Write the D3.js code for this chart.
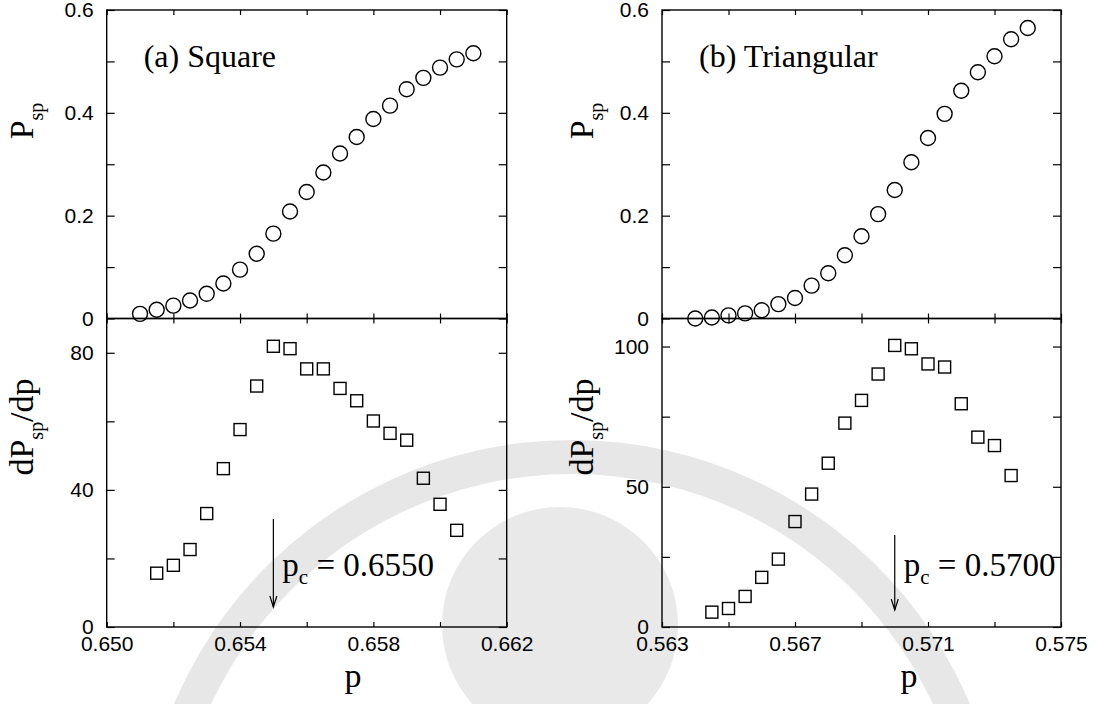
<!DOCTYPE html>
<html>
<head>
<meta charset="utf-8">
<script src="https://cdn.jsdelivr.net/npm/d3@7"></script>
<style>
  body { margin: 0; background: #fff; }
  svg { display: block; }
</style>
</head>
<body>
<svg id="chart" width="1096" height="704"></svg>
<script>
// square lattice, P_sp vs p
const sqP = [0.6510, 0.6515, 0.6520, 0.6525, 0.6530, 0.6535, 0.6540, 0.6545, 0.6550, 0.6555, 0.6560,
  0.6565, 0.6570, 0.6575, 0.6580, 0.6585, 0.6590, 0.6595, 0.6600, 0.6605, 0.6610];
const sqPsp = [0.009, 0.017, 0.025, 0.035, 0.048, 0.068, 0.095, 0.126, 0.165, 0.208, 0.246,
  0.284, 0.321, 0.353, 0.388, 0.414, 0.446, 0.468, 0.488, 0.504, 0.516];
// square lattice, dP_sp/dp
const sqDp = [0.6515, 0.6520, 0.6525, 0.6530, 0.6535, 0.6540, 0.6545, 0.6550, 0.6555, 0.6560,
  0.6565, 0.6570, 0.6575, 0.6580, 0.6585, 0.6590, 0.6595, 0.6600, 0.6605];
const sqDeriv = [15.7, 18.0, 22.6, 33.1, 46.2, 57.6, 70.3, 81.9, 81.2, 75.3,
  75.3, 69.6, 66.0, 60.1, 56.5, 54.5, 43.4, 35.8, 28.2];

// triangular lattice
const triP = [0.5640, 0.5645, 0.5650, 0.5655, 0.5660, 0.5665, 0.5670, 0.5675, 0.5680, 0.5685, 0.5690,
  0.5695, 0.5700, 0.5705, 0.5710, 0.5715, 0.5720, 0.5725, 0.5730, 0.5735, 0.5740];
const triPsp = [0.000, 0.002, 0.006, 0.010, 0.016, 0.028, 0.040, 0.064, 0.088, 0.123, 0.160,
  0.203, 0.250, 0.304, 0.351, 0.398, 0.443, 0.479, 0.510, 0.543, 0.565];
const triDp = [0.5645, 0.5650, 0.5655, 0.5660, 0.5665, 0.5670, 0.5675, 0.5680, 0.5685, 0.5690,
  0.5695, 0.5700, 0.5705, 0.5710, 0.5715, 0.5720, 0.5725, 0.5730, 0.5735];
const triDeriv = [5.3, 6.6, 10.9, 17.7, 24.2, 37.6, 47.4, 58.4, 72.7, 80.8,
  90.2, 100.4, 99.2, 93.8, 92.7, 79.6, 67.7, 64.7, 54.0];

// ticks
const sqXTicks = [0.650, 0.652, 0.654, 0.656, 0.658, 0.660, 0.662];
const sqXLabels = [0.650, 0.654, 0.658, 0.662];
const triXTicks = [0.563, 0.565, 0.567, 0.569, 0.571, 0.573, 0.575];
const triXLabels = [0.563, 0.567, 0.571, 0.575];
const pspTicks = [0, 0.1, 0.2, 0.3, 0.4, 0.5, 0.6];
const pspLabels = [0, 0.2, 0.4, 0.6];
const sqDerivTicks = [0, 20, 40, 60, 80];
const sqDerivLabels = [0, 40, 80];
const triDerivTicks = [0, 25, 50, 75, 100];
const triDerivLabels = [0, 50, 100];

const titles = ['(a) Square', '(b) Triangular'];
const pcLabels = ['0.6550', '0.5700'];
const pcValues = [0.6550, 0.5700];

const SERIF = '"Liberation Serif", "Times New Roman", serif';
const SANS = '"Liberation Sans", Arial, sans-serif';

const svg = d3.select('#chart');

// faint watermark behind the plots
const wm = svg.append('g').attr('class', 'watermark');
wm.append('circle')
  .attr('cx', 560).attr('cy', 625).attr('r', 118)
  .attr('fill', '#e9e9e9');
wm.append('path')
  .attr('d', d3.arc()({innerRadius: 398, outerRadius: 432, startAngle: -1.75, endAngle: 1.75}))
  .attr('transform', 'translate(572,872)')
  .attr('fill', '#e7e7e7');

const topY = 10, midY = 318.5, botY = 627;

const panels = [
  {x0: 106.7, x1: 506.7, xDom: [0.650, 0.662], xTicks: sqXTicks, xLabels: sqXLabels,
   p: sqP, psp: sqPsp, dp: sqDp, deriv: sqDeriv, dMax: 90,
   dTicks: sqDerivTicks, dLabels: sqDerivLabels, ylabX: 33, pX: 353, pcTop: 519, pcBot: 607},
  {x0: 662, x1: 1061, xDom: [0.563, 0.575], xTicks: triXTicks, xLabels: triXLabels,
   p: triP, psp: triPsp, dp: triDp, deriv: triDeriv, dMax: 110,
   dTicks: triDerivTicks, dLabels: triDerivLabels, ylabX: 593, pX: 909, pcTop: 535, pcBot: 610}
];

function fmtY(d) {
  if (d === 0) return '0';
  return Number.isInteger(d) ? String(d) : d3.format('.1f')(d);
}

function styleAxis(g) {
  g.select('.domain').remove();
  g.selectAll('.tick line').attr('stroke', '#000').attr('stroke-width', 1.2);
  g.selectAll('.tick text').attr('font-family', SANS).attr('font-size', 21).attr('fill', '#000');
}

panels.forEach(function(pn, i) {
  const x = d3.scaleLinear().domain(pn.xDom).range([pn.x0, pn.x1]);
  const yTop = d3.scaleLinear().domain([0, 0.6]).range([midY, topY]);
  const yBot = d3.scaleLinear().domain([0, pn.dMax]).range([botY, midY]);
  const g = svg.append('g');

  // top panel: P_sp
  g.append('g').attr('transform', 'translate(' + pn.x0 + ',0)')
    .call(d3.axisLeft(yTop).tickValues(pspTicks).tickSizeInner(-8).tickSizeOuter(0).tickPadding(13)
      .tickFormat(function(d) { return pspLabels.some(v => Math.abs(v - d) < 1e-9) ? fmtY(d) : ''; }))
    .call(styleAxis);
  g.append('g').attr('transform', 'translate(' + pn.x1 + ',0)')
    .call(d3.axisRight(yTop).tickValues(pspTicks).tickSizeInner(-8).tickSizeOuter(0).tickFormat(''))
    .call(styleAxis);
  g.append('g').attr('transform', 'translate(0,' + topY + ')')
    .call(d3.axisTop(x).tickValues(pn.xTicks).tickSizeInner(-5).tickSizeOuter(0).tickFormat(''))
    .call(styleAxis);
  g.append('g').attr('transform', 'translate(0,' + midY + ')')
    .call(d3.axisBottom(x).tickValues(pn.xTicks).tickSizeInner(-5).tickSizeOuter(0).tickFormat(''))
    .call(styleAxis);

  // bottom panel: dP_sp/dp
  g.append('g').attr('transform', 'translate(' + pn.x0 + ',0)')
    .call(d3.axisLeft(yBot).tickValues(pn.dTicks).tickSizeInner(-8).tickSizeOuter(0).tickPadding(13)
      .tickFormat(function(d) { return pn.dLabels.indexOf(d) >= 0 ? fmtY(d) : ''; }))
    .call(styleAxis);
  g.append('g').attr('transform', 'translate(' + pn.x1 + ',0)')
    .call(d3.axisRight(yBot).tickValues(pn.dTicks).tickSizeInner(-8).tickSizeOuter(0).tickFormat(''))
    .call(styleAxis);
  g.append('g').attr('transform', 'translate(0,' + midY + ')')
    .call(d3.axisTop(x).tickValues(pn.xTicks).tickSizeInner(-5).tickSizeOuter(0).tickFormat(''))
    .call(styleAxis);
  g.append('g').attr('transform', 'translate(0,' + botY + ')')
    .call(d3.axisBottom(x).tickValues(pn.xTicks).tickSizeInner(-5).tickSizeOuter(0).tickPadding(9)
      .tickFormat(function(d) { return pn.xLabels.some(v => Math.abs(v - d) < 1e-9) ? d3.format('.3f')(d) : ''; }))
    .call(styleAxis);

  // frames
  [[topY, midY], [midY, botY]].forEach(function(r) {
    g.append('rect')
      .attr('x', pn.x0).attr('y', r[0])
      .attr('width', pn.x1 - pn.x0).attr('height', r[1] - r[0])
      .attr('fill', 'none').attr('stroke', '#000').attr('stroke-width', 1.4);
  });

  // circles
  g.append('g').selectAll('circle')
    .data(pn.p.map((p, k) => [p, pn.psp[k]]))
    .enter().append('circle')
    .attr('cx', d => x(d[0]))
    .attr('cy', d => yTop(d[1]))
    .attr('r', 7.5)
    .attr('fill', 'none').attr('stroke', '#000').attr('stroke-width', 1.4);

  // squares
  g.append('g').selectAll('rect')
    .data(pn.dp.map((p, k) => [p, pn.deriv[k]]))
    .enter().append('rect')
    .attr('x', d => x(d[0]) - 6)
    .attr('y', d => yBot(d[1]) - 6)
    .attr('width', 12).attr('height', 12)
    .attr('fill', 'none').attr('stroke', '#000').attr('stroke-width', 1.4);

  // panel title
  g.append('text')
    .attr('x', pn.x0 + 37).attr('y', 67)
    .attr('font-family', SERIF).attr('font-size', 32)
    .text(titles[i]);

  // y labels
  const l1 = g.append('text')
    .attr('transform', 'translate(' + pn.ylabX + ',121) rotate(-90)')
    .attr('text-anchor', 'middle')
    .attr('font-family', SERIF).attr('font-size', 34);
  l1.append('tspan').text('P');
  l1.append('tspan').attr('font-size', 20).attr('dy', 10).text('sp');

  const l2 = g.append('text')
    .attr('transform', 'translate(' + pn.ylabX + ',427) rotate(-90)')
    .attr('text-anchor', 'middle')
    .attr('font-family', SERIF).attr('font-size', 34);
  l2.append('tspan').text('dP');
  l2.append('tspan').attr('font-size', 20).attr('dy', 10).text('sp');
  l2.append('tspan').attr('dy', -10).text('/dp');

  // x label
  g.append('text')
    .attr('x', pn.pX).attr('y', 687)
    .attr('text-anchor', 'middle')
    .attr('font-family', SERIF).attr('font-size', 34)
    .text('p');

  // p_c arrow + label
  const ax = x(pcValues[i]);
  g.append('line')
    .attr('x1', ax).attr('x2', ax).attr('y1', pn.pcTop).attr('y2', pn.pcBot)
    .attr('stroke', '#000').attr('stroke-width', 1.2);
  g.append('path')
    .attr('d', 'M' + (ax - 3.5) + ',' + (pn.pcBot - 11) + 'L' + ax + ',' + pn.pcBot + 'L' + (ax + 3.5) + ',' + (pn.pcBot - 11))
    .attr('fill', 'none').attr('stroke', '#000').attr('stroke-width', 1.2);
  const t = g.append('text')
    .attr('x', ax + 9).attr('y', 576)
    .attr('font-family', SERIF).attr('font-size', 33);
  t.append('tspan').text('p');
  t.append('tspan').attr('font-size', 21).attr('dy', 8).text('c');
  t.append('tspan').attr('dy', -8).text(' = ' + pcLabels[i]);
});
</script>
</body>
</html>
